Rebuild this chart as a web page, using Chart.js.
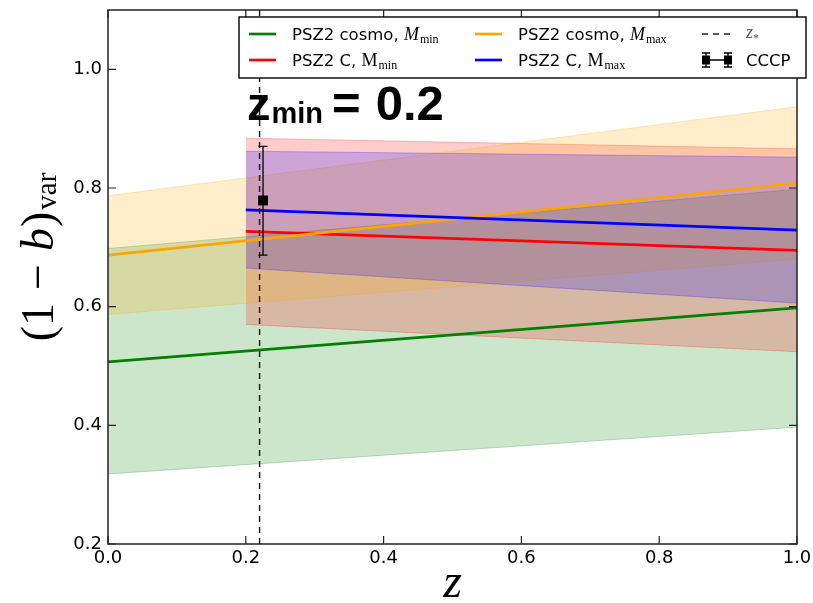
<!DOCTYPE html>
<html>
<head>
<meta charset="utf-8">
<script src="https://cdn.jsdelivr.net/npm/chart.js@4.4.1/dist/chart.umd.min.js"></script>
<style>
  body { margin: 0; background: #fff; }
  canvas { display: block; }
</style>
</head>
<body>
<canvas id="biasChart" width="813" height="603"></canvas>
<script>
// values
const zCosmo = [0.0, 1.0];
const greenLine = [0.507, 0.598];
const greenLow = [0.318, 0.397];
const greenHigh = [0.698, 0.798];
const orangeLine = [0.687, 0.808];
const orangeLow = [0.587, 0.680];
const orangeHigh = [0.787, 0.937];

const zC = [0.2, 1.0];
const redLine = [0.727, 0.695];
const redLow = [0.570, 0.524];
const redHigh = [0.884, 0.866];
const blueLine = [0.763, 0.729];
const blueLow = [0.665, 0.606];
const blueHigh = [0.862, 0.852];

const zStar = 0.22;
const yStarSpan = [0.2, 1.1];

const cccpZ = [0.225];
const cccpVal = [0.779];
const cccpLo = [0.687];
const cccpHi = [0.870];

const xTicks = [0.0, 0.2, 0.4, 0.6, 0.8, 1.0];
const yTicks = [0.2, 0.4, 0.6, 0.8, 1.0];

function pts(xs, ys) {
    return xs.map((x, i) => ({ x: x, y: ys[i] }));
}

function band(xs, ys, rgb, order, fillTo) {
    return {
        data: pts(xs, ys),
        borderColor: 'rgba(' + rgb + ',0.25)',
        borderWidth: 1,
        backgroundColor: 'rgba(' + rgb + ',0.2)',
        pointRadius: 0,
        fill: fillTo === undefined ? false : fillTo,
        order: order
    };
}

function line(xs, ys, color, order) {
    return {
        data: pts(xs, ys),
        borderColor: color,
        borderWidth: 2.7,
        pointRadius: 0,
        fill: false,
        order: order
    };
}

const SERIF = '"Liberation Serif", "DejaVu Serif", serif';
const SANS = '"DejaVu Sans", sans-serif';
const BOLD = '"Liberation Sans", Arial, sans-serif';

// draw a run of text pieces with their own fonts
function drawParts(ctx, x, y, parts) {
    let cx = x;
    parts.forEach(p => {
        ctx.font = p.font;
        ctx.fillText(p.t, cx, y + (p.dy || 0));
        cx += ctx.measureText(p.t).width + (p.gap || 0);
    });
    return cx;
}

function partsWidth(ctx, parts) {
    let w = 0;
    parts.forEach(p => {
        ctx.font = p.font;
        w += ctx.measureText(p.t).width + (p.gap || 0);
    });
    return w;
}

const decorations = {
    id: 'decorations',
    afterDatasetsDraw(chart) {
        const ctx = chart.ctx;
        const xs = chart.scales.x, ys = chart.scales.y;
        ctx.save();
        ctx.strokeStyle = '#000';
        ctx.lineWidth = 1.3;
        cccpZ.forEach((z, i) => {
            const px = xs.getPixelForValue(z);
            const top = ys.getPixelForValue(cccpHi[i]);
            const bot = ys.getPixelForValue(cccpLo[i]);
            ctx.beginPath();
            ctx.moveTo(px, top); ctx.lineTo(px, bot);
            ctx.moveTo(px - 4.5, top); ctx.lineTo(px + 4.5, top);
            ctx.moveTo(px - 4.5, bot); ctx.lineTo(px + 4.5, bot);
            ctx.stroke();
        });
        ctx.restore();
    },
    afterDraw(chart) {
        const ctx = chart.ctx;
        const a = chart.chartArea;
        const xs = chart.scales.x, ys = chart.scales.y;
        ctx.save();

        // inward ticks on all sides
        ctx.strokeStyle = '#222';
        ctx.lineWidth = 1.2;
        ctx.beginPath();
        xTicks.forEach(v => {
            const px = xs.getPixelForValue(v);
            ctx.moveTo(px, a.bottom); ctx.lineTo(px, a.bottom - 8);
            ctx.moveTo(px, a.top); ctx.lineTo(px, a.top + 8);
        });
        yTicks.forEach(v => {
            const py = ys.getPixelForValue(v);
            ctx.moveTo(a.left, py); ctx.lineTo(a.left + 8, py);
            ctx.moveTo(a.right, py); ctx.lineTo(a.right - 8, py);
        });
        ctx.stroke();

        // frame
        ctx.strokeStyle = '#222';
        ctx.lineWidth = 1.5;
        ctx.strokeRect(a.left, a.top, a.right - a.left, a.bottom - a.top);

        ctx.fillStyle = '#000';
        ctx.textBaseline = 'alphabetic';
        ctx.textAlign = 'left';

        // z_min annotation
        drawParts(ctx, 247, 120, [
            { t: 'z', font: 'bold 47px ' + BOLD, gap: 1 },
            { t: 'min', font: 'bold 29px ' + BOLD, dy: 3, gap: 9 },
            { t: '=', font: 'bold 49px ' + BOLD, gap: 15 },
            { t: '0.2', font: 'bold 49px ' + BOLD }
        ]);

        // x axis title
        ctx.textAlign = 'center';
        ctx.font = 'italic 48px ' + SERIF;
        ctx.fillText('z', (a.left + a.right) / 2, 597);
        ctx.textAlign = 'left';

        // y axis title
        const yParts = [
            { t: '(1', font: '46px ' + SERIF, gap: 13 },
            { t: '\u2212', font: '46px ' + SERIF, gap: 13 },
            { t: 'b', font: 'italic 46px ' + SERIF, gap: 1 },
            { t: ')', font: '46px ' + SERIF, gap: 2 },
            { t: 'var', font: '29px ' + SERIF, dy: 3 }
        ];
        ctx.save();
        ctx.translate(53, 257);
        ctx.rotate(-Math.PI / 2);
        drawParts(ctx, -partsWidth(ctx, yParts) / 2, 0, yParts);
        ctx.restore();

        // legend
        const lx = 239, ly = 17, lw = 567, lh = 61;
        ctx.fillStyle = '#fff';
        ctx.fillRect(lx, ly, lw, lh);
        ctx.strokeStyle = '#111';
        ctx.lineWidth = 1.5;
        ctx.strokeRect(lx, ly, lw, lh);

        const row1 = 34, row2 = 60;
        const entries = [
            { x: 249, y: row1, color: 'green', parts: [
                { t: 'PSZ2 cosmo, ', font: '16.5px ' + SANS },
                { t: 'M', font: 'italic 18px ' + SERIF, gap: 1 },
                { t: 'min', font: '12px ' + SERIF, dy: 3 }] },
            { x: 249, y: row2, color: 'red', parts: [
                { t: 'PSZ2 C, ', font: '16.5px ' + SANS },
                { t: 'M', font: '18px ' + SERIF, gap: 1 },
                { t: 'min', font: '12px ' + SERIF, dy: 3 }] },
            { x: 475, y: row1, color: '#FFA500', parts: [
                { t: 'PSZ2 cosmo, ', font: '16.5px ' + SANS },
                { t: 'M', font: 'italic 18px ' + SERIF, gap: 1 },
                { t: 'max', font: '12px ' + SERIF, dy: 3 }] },
            { x: 475, y: row2, color: 'blue', parts: [
                { t: 'PSZ2 C, ', font: '16.5px ' + SANS },
                { t: 'M', font: '18px ' + SERIF, gap: 1 },
                { t: 'max', font: '12px ' + SERIF, dy: 3 }] }
        ];
        entries.forEach(e => {
            ctx.strokeStyle = e.color;
            ctx.lineWidth = 2.7;
            ctx.setLineDash([]);
            ctx.beginPath();
            ctx.moveTo(e.x, e.y); ctx.lineTo(e.x + 27, e.y);
            ctx.stroke();
            ctx.fillStyle = '#000';
            drawParts(ctx, e.x + 43, e.y + 6, e.parts);
        });

        // z* entry
        ctx.strokeStyle = '#222';
        ctx.lineWidth = 1.5;
        ctx.setLineDash([6, 5]);
        ctx.beginPath();
        ctx.moveTo(702, row1); ctx.lineTo(730, row1);
        ctx.stroke();
        ctx.setLineDash([]);
        ctx.fillStyle = '#555';
        drawParts(ctx, 746, row1 + 4, [
            { t: 'z', font: 'italic 18px ' + SERIF },
            { t: '*', font: '12px ' + SERIF, dy: 4 }
        ]);

        // CCCP entry
        ctx.strokeStyle = '#000';
        ctx.fillStyle = '#000';
        ctx.lineWidth = 1.3;
        ctx.beginPath();
        ctx.moveTo(706, row2); ctx.lineTo(728, row2);
        [706, 728].forEach(cx => {
            ctx.moveTo(cx, row2 - 7); ctx.lineTo(cx, row2 + 7);
            ctx.moveTo(cx - 4, row2 - 7); ctx.lineTo(cx + 4, row2 - 7);
            ctx.moveTo(cx - 4, row2 + 7); ctx.lineTo(cx + 4, row2 + 7);
        });
        ctx.stroke();
        ctx.fillRect(702, row2 - 4.5, 8, 9);
        ctx.fillRect(724, row2 - 4.5, 8, 9);
        ctx.font = '16.5px ' + SANS;
        ctx.fillText('CCCP', 746, row2 + 6);

        ctx.restore();
    }
};

const ctx = document.getElementById('biasChart').getContext('2d');
const biasChart = new Chart(ctx, {
    type: 'line',
    data: {
        datasets: [
            band(zCosmo, greenLow, '0,128,0', 20),             // 0
            band(zCosmo, greenHigh, '0,128,0', 20, 0),         // 1
            band(zC, redLow, '255,0,0', 19),                   // 2
            band(zC, redHigh, '255,0,0', 19, 2),               // 3
            band(zCosmo, orangeLow, '255,165,0', 18),          // 4
            band(zCosmo, orangeHigh, '255,165,0', 18, 4),      // 5
            band(zC, blueLow, '0,0,255', 17),                  // 6
            band(zC, blueHigh, '0,0,255', 17, 6),              // 7
            line(zCosmo, greenLine, 'green', 9),
            line(zC, redLine, 'red', 8),
            line(zCosmo, orangeLine, '#FFA500', 7),
            line(zC, blueLine, 'blue', 6),
            {
                data: pts([zStar, zStar], yStarSpan),
                borderColor: '#222',
                borderWidth: 1.5,
                borderDash: [6, 5],
                pointRadius: 0,
                fill: false,
                order: 5
            },
            {
                data: pts(cccpZ, cccpVal),
                showLine: false,
                pointStyle: 'rect',
                pointRadius: 7,
                pointBackgroundColor: '#000',
                pointBorderColor: '#000',
                pointBorderWidth: 0,
                order: 4
            }
        ]
    },
    options: {
        responsive: false,
        animation: false,
        layout: { padding: { top: 10, right: 16, left: 0, bottom: 0 } },
        plugins: {
            legend: { display: false },
            tooltip: { enabled: false }
        },
        scales: {
            x: {
                type: 'linear',
                min: 0,
                max: 1,
                afterBuildTicks: s => { s.ticks = xTicks.map(v => ({ value: v })); },
                afterFit: s => {
                    s.height = 59;
                    s.paddingLeft = 0; s.paddingRight = 0;
                },
                grid: { drawOnChartArea: false, drawTicks: false },
                border: { display: false },
                ticks: {
                    padding: 4,
                    color: '#000',
                    font: { family: 'DejaVu Sans', size: 18 },
                    maxRotation: 0,
                    callback: v => v.toFixed(1)
                }
            },
            y: {
                type: 'linear',
                min: 0.2,
                max: 1.1,
                afterBuildTicks: s => { s.ticks = yTicks.map(v => ({ value: v })); },
                afterFit: s => {
                    s.width = 108;
                    s.paddingTop = 0; s.paddingBottom = 0;
                },
                grid: { drawOnChartArea: false, drawTicks: false },
                border: { display: false },
                ticks: {
                    padding: 6,
                    color: '#000',
                    font: { family: 'DejaVu Sans', size: 18 },
                    callback: v => v.toFixed(1)
                }
            }
        }
    },
    plugins: [decorations]
});
</script>
</body>
</html>
